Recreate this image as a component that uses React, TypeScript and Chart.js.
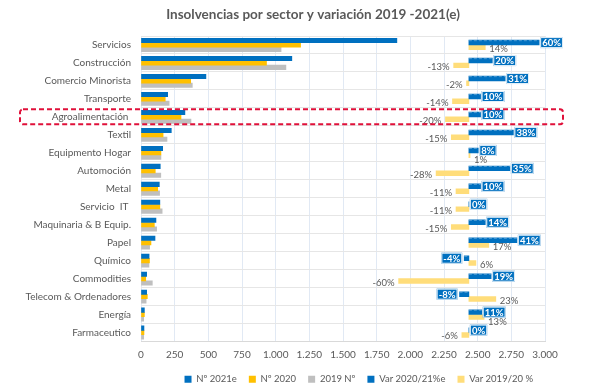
import React, { useEffect, useRef } from 'react';
import { Chart, registerables } from 'chart.js';

Chart.register(...registerables);

const categories = [
  'Servicios',
  'Construcción',
  'Comercio Minorista',
  'Transporte',
  'Agroalimentación ',
  'Textil',
  'Equipmento Hogar',
  'Automoción',
  'Metal',
  'Servicio  IT ',
  'Maquinaria & B Equip.',
  'Papel',
  'Químico',
  'Commodities',
  'Telecom & Ordenadores',
  'Energía',
  'Farmaceutico',
];

const n2021 = [1900, 1120, 482, 198, 326, 225, 161, 143, 136, 140, 111, 104, 60, 42, 42, 25, 22];
const n2020 = [1185, 932, 369, 180, 297, 164, 148, 106, 124, 140, 99, 74, 63, 35, 47, 25, 22];
const n2019 = [1040, 1076, 381, 209, 371, 193, 148, 147, 138, 157, 116, 64, 59, 84, 38, 20, 20];
const var2021 = [60, 20, 31, 10, 10, 38, 8, 35, 10, 0, 14, 41, -4, 19, -8, 11, 0];
const var2020 = [14, -13, -2, -14, -20, -15, 1, -28, -11, -11, -15, 17, 6, -60, 23, 13, -6];

const seriesNames = ['Nº 2021e', 'Nº 2020', '2019 Nº', 'Var 2020/21%e', 'Var 2019/20 %'];
const title = 'Insolvencias por sector y variación 2019 -2021(e)';
const highlightIndex = 4;

const BLUE = '#0070C0';
const YELLOW = '#FFC000';
const GRAY = '#BFBFBF';
const PALE = '#FFDD7A';
const TEXT = '#595959';
const FONT = 'Lato';

const fmt = (v: number) => String(v).replace(/\B(?=(\d{3})+(?!\d))/g, '.');

const titlePlugin = {
  id: 'customTitle',
  afterDraw(chart: any) {
    const ctx = chart.ctx;
    ctx.save();
    ctx.font = `bold 13.5px ${FONT}`;
    ctx.fillStyle = TEXT;
    ctx.textAlign = 'center';
    ctx.textBaseline = 'middle';
    ctx.fillText(title, 313, 15);
    ctx.restore();
  },
};

// each series sits on its own hidden category axis, nudged within the row
const rowOffsets: Record<string, number> = { yA: -4.4, yB: 0, yC: 4.4, yD: -2.4, yE: 2.4 };
const shiftPlugin = {
  id: 'shiftRows',
  afterLayout(chart: any) {
    Object.keys(rowOffsets).forEach((id) => {
      const s = chart.scales[id];
      if (!s) return;
      s._startPixel += rowOffsets[id];
      s._endPixel += rowOffsets[id];
    });
  },
};

const labelPlugin = {
  id: 'varLabels',
  afterDatasetsDraw(chart: any) {
    const ctx = chart.ctx;
    ctx.save();
    const mBlue = chart.getDatasetMeta(3);
    const boxes: { l: number; r: number; t: number; b: number }[] = [];
    // faint dashed edge on the blue variation bars
    ctx.setLineDash([3, 2]);
    ctx.strokeStyle = 'rgba(255,255,255,0.3)';
    ctx.lineWidth = 1;
    mBlue.data.forEach((el: any) => {
      const l = Math.min(el.x, el.base);
      const w = Math.abs(el.x - el.base);
      if (w > 2) {
        ctx.beginPath();
        ctx.moveTo(l, el.y - el.height / 2 + 0.5);
        ctx.lineTo(l + w, el.y - el.height / 2 + 0.5);
        ctx.stroke();
      }
    });
    ctx.setLineDash([]);
    ctx.font = `bold 9.5px ${FONT}`;
    ctx.textBaseline = 'middle';
    mBlue.data.forEach((el: any, i: number) => {
      const v = var2021[i];
      const txt = `${v}%`;
      const w = ctx.measureText(txt).width + 4;
      const h = 11;
      let left;
      if (v < 0) left = el.x - 2 - w;
      else left = Math.max(el.x, el.base) + 1;
      const top = el.y - h / 2;
      boxes[i] = { l: left, r: left + w, t: top, b: top + h };
      ctx.fillStyle = BLUE;
      ctx.fillRect(left, top, w, h);
      ctx.strokeStyle = 'rgba(255,255,255,0.9)';
      ctx.lineWidth = 1;
      ctx.strokeRect(left + 0.5, top + 0.5, w - 1, h - 1);
      ctx.fillStyle = '#FFFFFF';
      ctx.textAlign = 'left';
      ctx.fillText(txt, left + 2, el.y + 0.5);
    });
    const mY = chart.getDatasetMeta(4);
    ctx.font = `9.5px ${FONT}`;
    ctx.fillStyle = TEXT;
    mY.data.forEach((el: any, i: number) => {
      const v = var2020[i];
      const txt = `${v}%`;
      const tw = ctx.measureText(txt).width;
      let l, r;
      if (v < 0) {
        r = el.x - 4;
        l = r - tw;
      } else {
        l = el.x + 4;
        r = l + tw;
      }
      let y = el.y + 1.5;
      const bx = boxes[i];
      if (bx && l < bx.r && r > bx.l && y - 3.5 < bx.b) y = bx.b + 4;
      ctx.textAlign = 'left';
      ctx.fillText(txt, l, y);
    });
    ctx.restore();
  },
};

const highlightPlugin = {
  id: 'highlight',
  afterDraw(chart: any) {
    const ctx = chart.ctx;
    const y = chart.scales.y.getPixelForValue(highlightIndex);
    ctx.save();
    ctx.strokeStyle = '#E0103A';
    ctx.lineWidth = 2;
    ctx.setLineDash([5, 3]);
    ctx.beginPath();
    (ctx as any).roundRect(20, y - 7.5, 543, 15, 3);
    ctx.stroke();
    ctx.restore();
  },
};

export default function App() {
  const ref = useRef<HTMLCanvasElement | null>(null);

  useEffect(() => {
    if (!ref.current) return;
    Chart.defaults.font.family = FONT;
    const base = { borderWidth: 0, grouped: false };
    const hiddenCat = { type: 'category', display: false, offset: true };
    const chart = new Chart(ref.current, {
      type: 'bar',
      data: {
        labels: categories,
        datasets: [
          { label: seriesNames[0], data: n2021, backgroundColor: BLUE, ...base, barThickness: 4.4, xAxisID: 'x', yAxisID: 'yA' },
          { label: seriesNames[1], data: n2020, backgroundColor: YELLOW, ...base, barThickness: 4.4, xAxisID: 'x', yAxisID: 'yB' },
          { label: seriesNames[2], data: n2019, backgroundColor: GRAY, ...base, barThickness: 4.4, xAxisID: 'x', yAxisID: 'yC' },
          { label: seriesNames[3], data: var2021, backgroundColor: BLUE, ...base, barThickness: 4.8, xAxisID: 'x2', yAxisID: 'yD' },
          { label: seriesNames[4], data: var2020, backgroundColor: PALE, ...base, barThickness: 4.8, xAxisID: 'x2', yAxisID: 'yE' },
        ] as any,
      },
      options: {
        indexAxis: 'y',
        animation: false,
        responsive: false,
        maintainAspectRatio: false,
        layout: { padding: { top: 36, bottom: -4, left: 0, right: 58 } },
        plugins: {
          title: { display: false },
          tooltip: { enabled: false },
          legend: {
            position: 'bottom',
            align: 'end',
            labels: {
              boxWidth: 7,
              boxHeight: 7,
              padding: 12,
              color: TEXT,
              font: { size: 9.5, family: FONT },
            },
          },
        },
        scales: {
          x: {
            type: 'linear',
            position: 'bottom',
            min: 0,
            max: 3000,
            ticks: {
              stepSize: 250,
              color: TEXT,
              font: { size: 10, family: FONT },
              padding: 7,
              callback: (v: any) => fmt(Number(v)),
            },
            grid: { color: '#E1E9F4', drawTicks: false },
            border: { display: true, color: '#D9D9D9' },
            afterFit: (s: any) => { s.height = 21; },
          },
          x2: { type: 'linear', display: false, min: -280, max: 65 },
          y: {
            type: 'category',
            offset: true,
            grid: { offset: true, color: '#E6E6E6', drawTicks: false },
            border: { display: false },
            ticks: { color: TEXT, font: { size: 10, family: FONT }, padding: 10 },
            afterFit: (s: any) => { s.width = 141; },
          },
          yA: hiddenCat,
          yB: hiddenCat,
          yC: hiddenCat,
          yD: hiddenCat,
          yE: hiddenCat,
        },
      } as any,
      plugins: [shiftPlugin, labelPlugin, highlightPlugin, titlePlugin],
    });
    return () => chart.destroy();
  }, []);

  return (
    <div style={{ position: 'fixed', left: 0, top: 0, width: 603, height: 390, background: '#fff' }}>
      <canvas ref={ref} width={603} height={390} style={{ width: 603, height: 390, display: 'block' }} />
    </div>
  );
}
